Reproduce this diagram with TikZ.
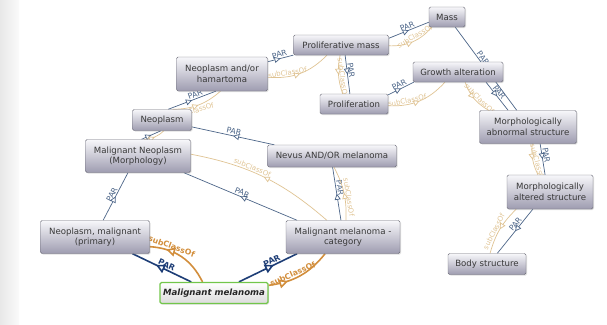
\documentclass[tikz,border=0pt]{standalone}
\usepackage{fontspec}
\setmainfont{DejaVu Sans}
\usetikzlibrary{calc, arrows.meta, decorations.markings, shadows}

\definecolor{parcol}{HTML}{4C6588}
\definecolor{parhlcol}{HTML}{1D3D76}
\definecolor{subcol}{HTML}{DFC393}
\definecolor{subhlcol}{HTML}{D28E3C}
\definecolor{boxtop}{HTML}{F7F7FA}
\definecolor{boxbot}{HTML}{9E9CB0}
\definecolor{boxline}{HTML}{6C6C78}
\definecolor{focusline}{HTML}{72C64A}

\pgfdeclarelayer{edges}
\pgfsetlayers{edges,main}

\tikzset{
  concept/.style={draw=boxline, rounded corners=1.5pt, top color=boxtop, bottom color=boxbot,
    text=black!78, font=\fontsize{8.6}{10.5}\selectfont, align=center, inner sep=0pt,
    drop shadow={opacity=0.25, shadow xshift=1pt, shadow yshift=-1pt}},
  focus/.style={concept, draw=focusline, line width=1.2pt, top color=white, bottom color=black!14,
    text=black!85, font=\fontsize{8.6}{10.5}\selectfont\bfseries\itshape},
  midtri/.style={postaction={decorate, decoration={markings,
    mark=at position #1 with {\arrow{Triangle[length=6pt, width=6pt, fill=white]}}}}},
  midtri/.default=0.5,
  bigtri/.style={postaction={decorate, decoration={markings,
    mark=at position #1 with {\arrow{Triangle[length=9pt, width=9pt, fill=white]}}}}},
  bigtri/.default=0.5,
  par/.style={draw=parcol, line width=0.7pt, midtri},
  subcls/.style={draw=subcol, line width=0.7pt, midtri},
  parhl/.style={draw=parhlcol, line width=1.6pt, bigtri=#1},
  parhl/.default=0.6,
  subhl/.style={draw=subhlcol, line width=1.6pt, bigtri=#1},
  subhl/.default=0.6,
  parlbl/.style={text=parcol, font=\fontsize{7.8}{8}\selectfont, inner sep=1pt},
  sublbl/.style={text=subcol, font=\fontsize{7}{8}\selectfont, inner sep=1pt},
  parhllbl/.style={text=parhlcol, font=\fontsize{8}{8}\selectfont\bfseries, inner sep=1pt},
  subhllbl/.style={text=subhlcol, font=\fontsize{7.8}{8}\selectfont\bfseries, inner sep=1pt}
}

\begin{document}
\begin{tikzpicture}[x=1pt, y=-1pt]
        \useasboundingbox (0,0) rectangle (607,324);
        \shade[left color=black!9, right color=black!2] (0,0) rectangle (19,324);

        \node[concept, minimum width=36pt, minimum height=20pt] (mass) at (447,17) {Mass};
        \node[concept, minimum width=95pt, minimum height=20pt] (promass) at (341,45) {Proliferative mass};
        \node[concept, minimum width=91pt, minimum height=34pt] (neoham) at (222,74) {Neoplasm and/or\\hamartoma};
        \node[concept, minimum width=90pt, minimum height=20pt] (growth) at (458,72) {Growth alteration};
        \node[concept, minimum width=68pt, minimum height=20pt] (prolif) at (354,104) {Proliferation};
        \node[concept, minimum width=97pt, minimum height=33pt] (mabn) at (528,127) {Morphologically\\abnormal structure};
        \node[concept, minimum width=59pt, minimum height=21pt] (neo) at (162,120) {Neoplasm};
        \node[concept, minimum width=105pt, minimum height=33pt] (mneo) at (138,156) {Malignant Neoplasm\\(Morphology)};
        \node[concept, minimum width=129pt, minimum height=22pt] (nevus) at (332,156) {Nevus AND/OR melanoma};
        \node[concept, minimum width=109pt, minimum height=33pt] (nmal) at (95,237) {Neoplasm, malignant\\(primary)};
        \node[concept, minimum width=114pt, minimum height=33pt] (mmcat) at (343,237) {Malignant melanoma -\\category};
        \node[focus, minimum width=108pt, minimum height=21pt] (mm) at (214,293) {Malignant melanoma};
        \node[concept, minimum width=86pt, minimum height=34pt] (malt) at (550,192) {Morphologically\\altered structure};
        \node[concept, minimum width=78pt, minimum height=21pt] (body) at (487,264) {Body structure};

        \begin{pgfonlayer}{edges}
        %focus concept
        \draw[parhl] (mm.154) -- node[parhllbl, above, sloped, pos=0.45] {PAR} (nmal.-24);
        \draw[subhl=0.75] (mm.136) to[bend right=30] node[subhllbl, above, sloped, pos=0.7] {subClassOf} (nmal.-10);
        \draw[parhl] (mm.24) -- node[parhllbl, above, sloped, pos=0.6] {PAR} (mmcat.200);
        \draw[subhl=0.3] (mm.8) to[bend right=22] node[subhllbl, above, sloped, pos=0.4] {subClassOf} (mmcat.223);

        \draw[par] (nmal.64) -- node[parlbl, above, sloped] {PAR} (mneo.239);
        \draw[par] (mmcat.160) -- node[parlbl, above, sloped] {PAR} (mneo.340);
        \draw[subcls] (mmcat.134) to[bend right=15] node[sublbl, above, sloped, pos=0.6] {subClassOf} (mneo.2);
        \draw[par] (mmcat.97) -- node[parlbl, above, sloped, pos=0.6] {PAR} (nevus.273);
        \draw[subcls] (mmcat.80) to[bend right=15] node[sublbl, above, sloped, pos=0.4] {subClassOf} (nevus.-80);
        \draw[par] (nevus.169) -- node[parlbl, above, sloped] {PAR} (neo.347);
        \draw[par] (mneo.78) -- (neo.-95);
        \draw[subcls] (mneo.70) to[bend right=20] (neo.-80);
        \draw[par] (neo.60) -- node[parlbl, above, sloped, pos=0.6] {PAR} (neoham.-110);
        \draw[subcls] (neo.45) to[bend right=20] node[sublbl, below, sloped, pos=0.4] {subClassOf} (neoham.-95);

        \draw[par] (neoham.15) -- node[parlbl, above, sloped] {PAR} (promass.192);
        \draw[subcls] (neoham.-4) to[bend right=25] node[sublbl, above, sloped, pos=0.3] {subClassOf} (promass.216);
        \draw[par] (promass.8) -- node[parlbl, above, sloped] {PAR} (mass.196);
        \draw[subcls] (promass.-1) to[bend right=25] node[sublbl, above, sloped, pos=0.6] {subClassOf} (mass.214);
        \draw[par] (promass.292) -- node[parlbl, above, sloped, pos=0.4] {PAR} (prolif.112);
        \draw[subcls] (promass.265) to[bend right=15] node[sublbl, above, sloped, pos=0.6] {subClassOf} (prolif.138);
        \draw[par] (prolif.15) -- node[parlbl, above, sloped] {PAR} (growth.193);
        \draw[subcls] (prolif.357) to[bend right=25] node[sublbl, above, sloped, pos=0.3] {subClassOf} (growth.218);

        \draw[par] (growth.340) -- node[parlbl, above, sloped, pos=0.45] {PAR} (mabn.140);
        \draw[subcls] (growth.305) to[bend right=20] node[sublbl, above, sloped, pos=0.6] {subClassOf} (mabn.157);
        \draw[par] (mass.309) -- node[parlbl, above, sloped, pos=0.4] {PAR} (mabn.124);
        \draw[par] (mabn.306) -- node[parlbl, above, sloped, pos=0.4] {PAR} (malt.106);
        \draw[subcls] (mabn.284) to[bend right=15] node[sublbl, above, sloped, pos=0.65] {subClassOf} (malt.125);
        \draw[par] (malt.225) -- node[parlbl, above, sloped, pos=0.4] {PAR} (body.46);
        \draw[subcls] (malt.207) to[bend right=15] node[sublbl, above, sloped, pos=0.6] {subClassOf} (body.74);
        \end{pgfonlayer}
\end{tikzpicture}
\end{document}
